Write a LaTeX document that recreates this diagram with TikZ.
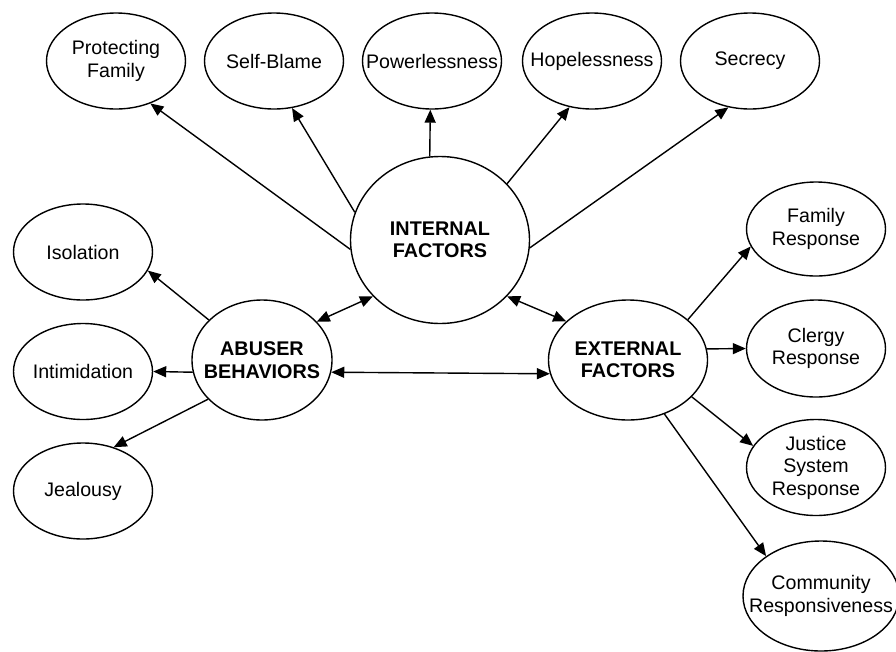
\documentclass[tikz,border=0pt]{standalone}
\usepackage{fontspec}
\setmainfont{Liberation Sans}
\usetikzlibrary{shapes.geometric,arrows.meta}
\begin{document}
\begin{tikzpicture}[x=1pt,y=-1pt,
  oval/.style={draw, ellipse, line width=1.4pt, align=center,
    font=\fontsize{19.6}{22.5}\selectfont,
    inner xsep=-40pt, inner ysep=-40pt,
    minimum width=139pt, minimum height=96pt},
  hub/.style={oval, font=\fontsize{19.8}{22.5}\selectfont\bfseries},
  arr/.style={-{Triangle[length=13pt,width=11pt]}, line width=1.4pt},
  darr/.style={{Triangle[length=13pt,width=11pt]}-{Triangle[length=13pt,width=11pt]}, line width=1.4pt}]
\useasboundingbox (0,0) rectangle (896,651);
\fill[white] (0,0) rectangle (896,651);

% hubs
\node[hub, minimum width=179pt, minimum height=167pt] (int) at (440,240) {INTERNAL\\FACTORS};
\node[hub, minimum width=140pt, minimum height=120pt] (ab) at (262,360) {ABUSER\\BEHAVIORS};
\node[hub, minimum width=159pt, minimum height=120pt] (ext) at (628,360) {EXTERNAL\\FACTORS};

% internal factors
\node[oval] (pf) at (116,61) {Protecting\\Family};
\node[oval] (sb) at (274,61) {Self-Blame};
\node[oval] (pw) at (432,61) {Powerlessness};
\node[oval] (hp) at (592,61) {Hopelessness};
\node[oval] (sc) at (750,61) {Secrecy};

% abuser behaviors
\node[oval] (iso) at (83,252) {Isolation};
\node[oval] (inti) at (83,371.5) {Intimidation};
\node[oval] (jea) at (83,491) {Jealousy};

% external factors
\node[oval, minimum height=94pt] (fam) at (816,229) {Family\\Response};
\node[oval, minimum height=97pt] (cle) at (816,348.5) {Clergy\\Response};
\node[oval, minimum height=96pt] (jus) at (816,467.5) {Justice\\System\\Response};
\node[oval, minimum width=156pt, minimum height=110pt] (com) at (821,596) {Community\\Responsiveness};

% connectors from internal factors
\draw[arr] (int.186) -- (pf.-51);
\draw[arr] (int.162) -- (sb.-69);
\draw[arr] (int.97) -- (pw.-92);
\draw[arr] (int.40) -- (hp.-116);
\draw[arr] (int.-5) -- (sc.-115.6);

% hub links
\draw[darr] (ab.35.5) -- (int.220.5);
\draw[darr] (int.-40.5) -- (ext.148.8);
\draw[darr] (ab.-10) -- (ext.190);

% abuser behaviors
\draw[arr] (ab.143.5) -- (iso.-16);
\draw[arr] (ab.190) -- (inti.east);
\draw[arr] (ab.216.5) -- (jea.55.7);

% external factors
\draw[arr] (ext.34) -- (fam.195.7);
\draw[arr] (ext.8.5) -- (cle.180);
\draw[arr] (ext.-30.7) -- (jus.161);
\draw[arr] (ext.-56) -- (com.144);
\end{tikzpicture}
\end{document}
